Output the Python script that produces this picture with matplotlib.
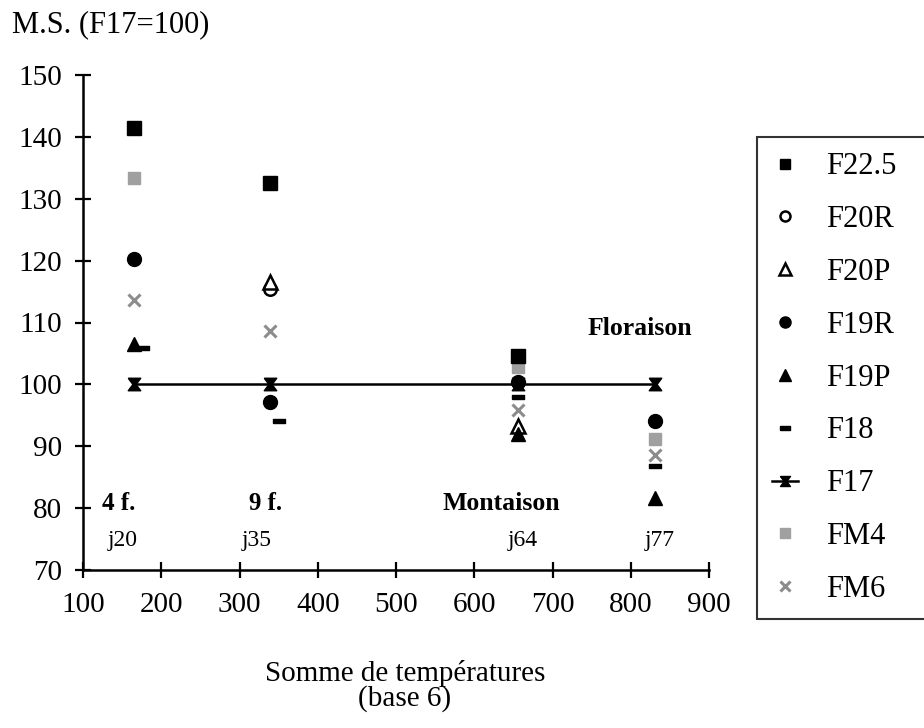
import numpy as np
import matplotlib
matplotlib.use('Agg')
import matplotlib.pyplot as plt

plt.rcParams['font.family'] = ['Liberation Serif', 'DejaVu Serif']

# temperature sums of the four sampling dates
date_x = [151, 322, 662, 837]
date_labels = ['j20', 'j35', 'j64', 'j77']

# dry matter relative to F17 (=100)
x_f225 = [165, 339, 656]
y_f225 = [141.5, 132.5, 104.6]
x_f20r = [339]
y_f20r = [115.4]
x_f20p = [339, 656]
y_f20p = [116.6, 93.2]
x_f19r = [165, 339, 656, 831]
y_f19r = [120.2, 97.2, 100.4, 94.1]
x_f19p = [165, 656, 831]
y_f19p = [106.6, 91.9, 81.7]
x_f18 = [177, 350, 656, 831]
y_f18 = [105.8, 94.1, 97.9, 86.8]
x_f17 = [165, 339, 656, 831]
y_f17 = [100, 100, 100, 100]
x_fm4 = [165, 339, 656, 831]
y_fm4 = [133.4, 132.5, 102.8, 91.1]
x_fm6 = [165, 339, 656, 831]
y_fm6 = [113.7, 108.6, 95.9, 88.6]

hourglass = [(-1, 1), (1, 1), (0.25, 0), (1, -1), (-1, -1), (-0.25, 0), (-1, 1)]
dash = [(-1, -0.35), (1, -0.35), (1, 0.35), (-1, 0.35), (-1, -0.35)]

fig = plt.figure(figsize=(9.24, 7.28), dpi=100)
ax = fig.add_axes([83 / 924, 1 - 570 / 728, 626 / 924, 495 / 728])

fm4, = ax.plot(x_fm4, y_fm4, ls='none', marker='s', ms=9, color='#a0a0a0',
               mec='#a0a0a0', label='FM4')
f225, = ax.plot(x_f225, y_f225, ls='none', marker='s', ms=9.5, color='black',
                label='F22.5')
fm6, = ax.plot(x_fm6, y_fm6, ls='none', marker='x', ms=9, mew=2.2,
               color='#8c8c8c', label='FM6')
f20r, = ax.plot(x_f20r, y_f20r, ls='none', marker='o', ms=9, mfc='white',
                mec='black', mew=1.8, label='F20R')
f20p, = ax.plot(x_f20p, y_f20p, ls='none', marker='^', ms=10, mfc='white',
                mec='black', mew=1.8, label='F20P')
f19r, = ax.plot(x_f19r, y_f19r, ls='none', marker='o', ms=10, color='black',
                label='F19R')
f19p, = ax.plot(x_f19p, y_f19p, ls='none', marker='^', ms=10.5, color='black',
                label='F19P')
f18, = ax.plot(x_f18, y_f18, ls='none', marker=dash, ms=9, color='black',
               label='F18')
f17, = ax.plot(x_f17, y_f17, ls='-', lw=1.8, marker=hourglass, ms=9,
               color='black', label='F17')

ax.set_xlim(100, 900)
ax.set_ylim(70, 150)
ax.set_xticks(np.arange(100, 901, 100))
ax.set_yticks(np.arange(70, 151, 10))
ax.tick_params(direction='inout', length=12, width=1.6)
ax.tick_params(axis='x', labelsize=21, pad=10)
ax.tick_params(axis='y', labelsize=21, pad=9)
for side in ['top', 'right']:
    ax.spines[side].set_visible(False)
for side in ['left', 'bottom']:
    ax.spines[side].set_linewidth(1.8)
ax.patch.set_alpha(0)

# stage annotations
ax.text(145, 80.8, '4 f.', fontsize=18, fontweight='bold', ha='center', va='center')
ax.text(333, 80.8, '9 f.', fontsize=18, fontweight='bold', ha='center', va='center')
ax.text(634, 80.8, 'Montaison', fontsize=18.5, fontweight='bold', ha='center', va='center')
ax.text(812, 109, 'Floraison', fontsize=18.5, fontweight='bold', ha='center', va='center')
for xd, lab in zip(date_x, date_labels):
    ax.text(xd, 74.8, lab, fontsize=17, ha='center', va='center')

fig.text(12 / 924, 1 - 25 / 728, 'M.S. (F17=100)', fontsize=22, ha='left', va='center')
fig.text(405 / 924, 1 - 686 / 728, 'Somme de températures\n(base 6)', fontsize=21,
         ha='center', va='center', linespacing=0.95)

handles = [f225, f20r, f20p, f19r, f19p, f18, f17, fm4, fm6]
leg = fig.legend(handles=handles, loc='upper left',
                 bbox_to_anchor=(757 / 924, 1 - 632 / 728, 175 / 924, 495 / 728),
                 mode='expand', fontsize=22, frameon=True, fancybox=False,
                 edgecolor='black', borderpad=0.5, labelspacing=0.78,
                 handlelength=0.85, handletextpad=0.9, markerscale=0.8,
                 borderaxespad=0)
leg.get_frame().set_linewidth(1.5)

plt.savefig('out.png', dpi=100)
